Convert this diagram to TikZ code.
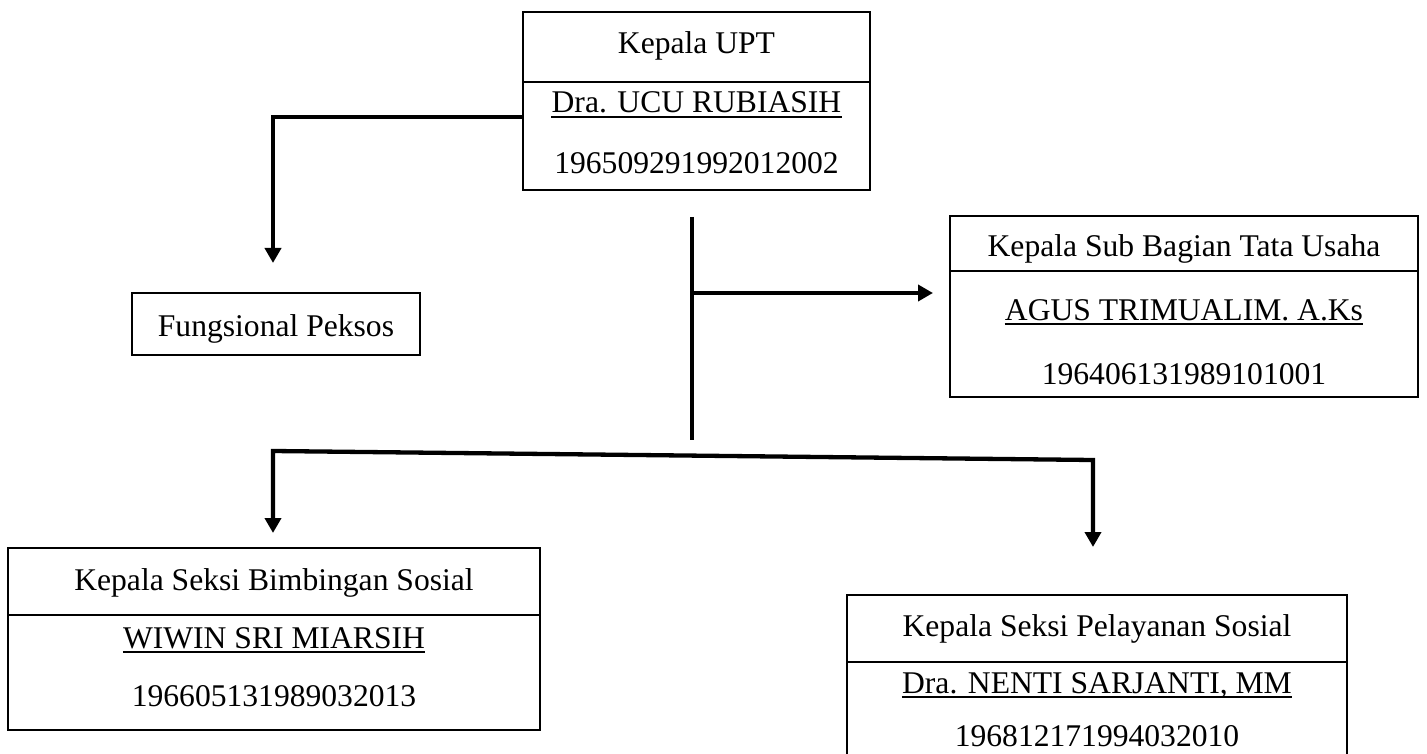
\documentclass[tikz,border=0pt]{standalone}
\usepackage{fontspec}
\setmainfont{Liberation Serif}
\usetikzlibrary{arrows.meta}
\begin{document}
\begin{tikzpicture}[x=1pt,y=-1pt,
  box/.style={draw, line width=2.6pt, inner sep=0pt, outer sep=0pt},
  conn/.style={line width=4.3pt},
  arr/.style={conn, -{Triangle[length=15pt,width=16pt]}},
  arrb/.style={conn, {Triangle[length=15pt,width=16pt]}-{Triangle[length=15pt,width=16pt]}},
  sep/.style={line width=1.3pt},
  txt/.style={anchor=base, inner sep=0pt, font=\fontsize{31.6}{38}\selectfont},
  uline/.style={line width=2pt}]
\useasboundingbox (0,0) rectangle (1427,754);
\clip (0,0) rectangle (1427,754);
\fill[white] (0,0) rectangle (1427,754);

% boxes
\node[box, minimum width=347pt, minimum height=178pt] (upt) at (696.5,101) {};
\node[box, minimum width=468pt, minimum height=181pt] (sub) at (1184,306.5) {};
\node[box, minimum width=288pt, minimum height=62pt] (fung) at (276,324) {};
\node[box, minimum width=532pt, minimum height=182pt] (bim) at (274,639) {};
\node[box, minimum width=500pt, minimum height=260pt] (pel) at (1097,725) {};

% dividers
\draw[sep] (upt.west |- 0,82) -- (upt.east |- 0,82);
\draw[sep] (sub.west |- 0,271) -- (sub.east |- 0,271);
\draw[sep] (bim.west |- 0,615) -- (bim.east |- 0,615);
\draw[sep] (pel.west |- 0,662) -- (pel.east |- 0,662);

% texts
\node[txt] (upt1) at (696.5,54) {Kepala UPT};
\node[txt] (upt2) at (696.5,113) {Dra. UCU RUBIASIH};
\node[txt] (upt3) at (696.5,174) {196509291992012002};
\node[txt] (sub1) at (1184,256) {Kepala Sub Bagian Tata Usaha};
\node[txt] (sub2) at (1184,320) {AGUS TRIMUALIM. A.Ks};
\node[txt] (sub3) at (1184,384) {196406131989101001};
\node[txt] (fung1) at (276,336) {Fungsional Peksos};
\node[txt] (bim1) at (274,590) {Kepala Seksi Bimbingan Sosial};
\node[txt] (bim2) at (274,648) {WIWIN SRI MIARSIH};
\node[txt] (bim3) at (274,706) {196605131989032013};
\node[txt] (pel1) at (1097,636) {Kepala Seksi Pelayanan Sosial};
\node[txt] (pel2) at (1097,693) {Dra. NENTI SARJANTI, MM};
\node[txt] (pel3) at (1097,746) {196812171994032010};

% underlines
\foreach \n in {upt2,sub2,bim2,pel2}
  \draw[uline] ([yshift=-4pt]\n.base west) -- ([yshift=-4pt]\n.base east);

% connectors
\coordinate (a0) at (273,117);
\coordinate (a1) at (273,263);
\draw[arr] (upt.west |- a0) -- (a0) -- (a1);

\coordinate (v1) at (692,217);
\coordinate (v2) at (692,440);
\draw[conn] (v1) -- (v2);
\coordinate (h0) at (692,293);
\coordinate (h1) at (933,293);
\draw[arr] (h0) -- (h1);

\coordinate (b0) at (273,451);
\coordinate (b1) at (1093,460);
\coordinate (bl) at (273,533);
\coordinate (br) at (1093,547);
\draw[arrb] (bl) -- (b0) -- (b1) -- (br);
\end{tikzpicture}
\end{document}
